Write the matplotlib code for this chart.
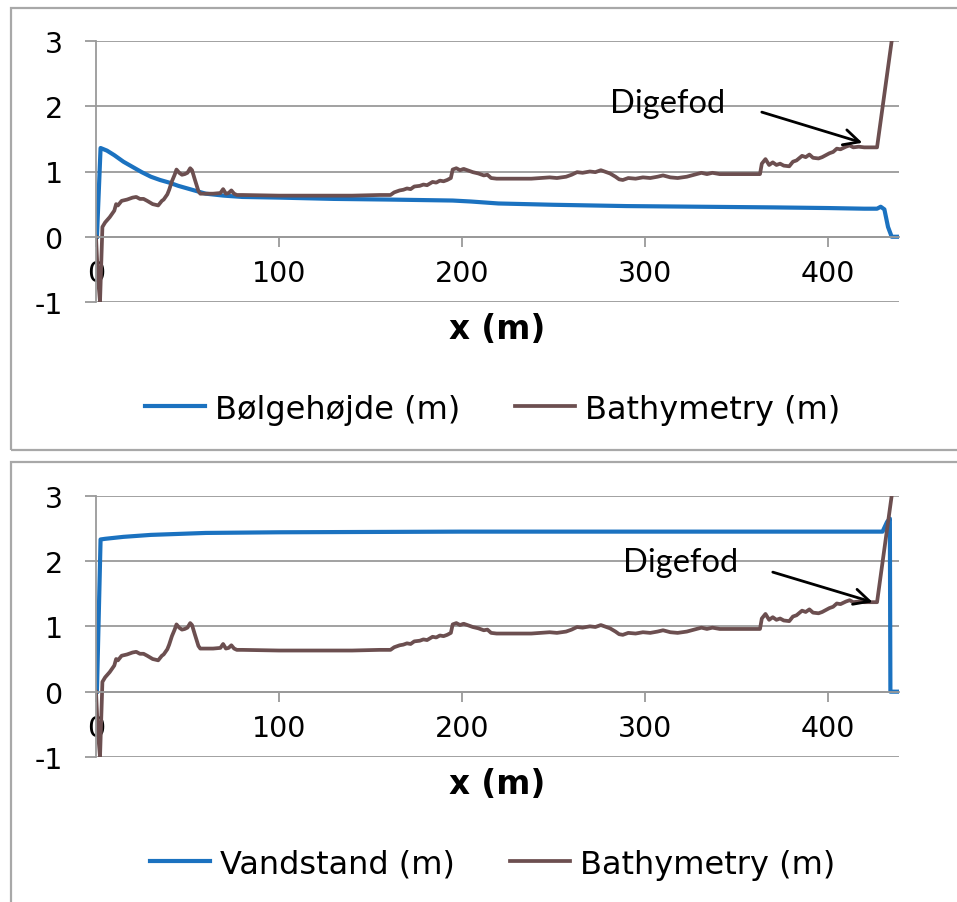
import matplotlib
matplotlib.use("Agg")
import matplotlib.pyplot as plt
from matplotlib.patches import Rectangle

plt.rcParams["axes.unicode_minus"] = False

# bathymetry (same in both panels)
bathy_x = [0, 1, 2.2, 3.5, 5, 7.5, 10, 11, 12, 14, 17, 20, 22, 24, 26, 28, 31, 34, 36, 37,
           39, 40, 41.5, 43, 44, 45.5, 47, 48.5, 50, 51.5, 52.5, 54, 56, 57, 60, 64, 68, 69.5,
           71, 72.5, 74, 75.5, 77, 80, 100, 120, 140, 155, 161, 163, 166, 168, 170, 172, 174,
           177, 179, 181, 184, 186, 188, 190, 192, 194, 195, 197, 199, 201, 203, 206, 209, 212,
           214, 216, 219, 225, 232, 238, 243, 248, 252, 257, 260, 263, 266, 270, 273, 276, 279,
           281, 284, 286, 288, 291, 295, 299, 303, 307, 310, 314, 318, 323, 327, 331, 334, 337,
           341, 345, 350, 356, 363, 364, 366, 368, 370, 372, 374, 376, 379, 381, 383, 386, 388,
           390, 392, 395, 397, 399, 401, 403, 405, 407, 410, 412, 414, 417, 420, 423, 427, 435]
bathy_y = [0.0, -0.6, -1.0, 0.15, 0.22, 0.3, 0.4, 0.5, 0.48, 0.55, 0.57, 0.6, 0.61, 0.58, 0.58,
           0.55, 0.5, 0.48, 0.55, 0.57, 0.65, 0.72, 0.85, 0.95, 1.03, 0.98, 0.95, 0.96, 0.98,
           1.05, 1.02, 0.88, 0.7, 0.66, 0.66, 0.66, 0.67, 0.73, 0.66, 0.67, 0.71, 0.66, 0.64,
           0.64, 0.63, 0.63, 0.63, 0.64, 0.64, 0.68, 0.71, 0.72, 0.74, 0.73, 0.77, 0.78, 0.8,
           0.79, 0.84, 0.83, 0.86, 0.85, 0.87, 0.9, 1.03, 1.05, 1.02, 1.04, 1.02, 0.99, 0.97,
           0.94, 0.95, 0.9, 0.89, 0.89, 0.89, 0.89, 0.9, 0.91, 0.9, 0.92, 0.95, 0.99, 0.98, 1.0,
           0.99, 1.02, 0.99, 0.97, 0.92, 0.88, 0.87, 0.9, 0.89, 0.91, 0.9, 0.92, 0.94, 0.91, 0.9,
           0.92, 0.95, 0.98, 0.96, 0.98, 0.96, 0.96, 0.96, 0.96, 0.96, 1.12, 1.19, 1.1, 1.14, 1.1,
           1.12, 1.09, 1.08, 1.15, 1.17, 1.24, 1.22, 1.26, 1.21, 1.2, 1.22, 1.25, 1.28, 1.3, 1.35,
           1.34, 1.38, 1.4, 1.37, 1.38, 1.37, 1.37, 1.37, 3.0]

# wave height (top panel)
wave_x = [0.5, 2.5, 6, 10, 15, 20, 25, 30, 35, 40, 45, 50, 55, 60, 70, 80, 100, 130, 160, 195,
          205, 220, 250, 290, 330, 370, 400, 420, 427, 429, 431, 433, 435, 439]
wave_y = [0, 1.36, 1.32, 1.25, 1.15, 1.07, 0.99, 0.92, 0.87, 0.83, 0.78, 0.74, 0.7, 0.66, 0.63,
          0.61, 0.6, 0.58, 0.57, 0.555, 0.54, 0.51, 0.49, 0.47, 0.46, 0.45, 0.44, 0.43, 0.43,
          0.46, 0.42, 0.15, 0.0, 0.0]

# water level (bottom panel)
water_x = [0.5, 2.5, 5, 15, 30, 60, 100, 200, 300, 400, 430, 432.5, 434, 434.3, 439]
water_y = [0, 2.33, 2.34, 2.37, 2.4, 2.43, 2.44, 2.45, 2.45, 2.45, 2.45, 2.6, 2.65, 0, 0]

BLUE = "#1b72c0"
BROWN = "#6c4f50"
GRID = "#9a9a9a"

fig = plt.figure(figsize=(9.57, 9.03), dpi=100)
fig.patch.set_facecolor("white")

# panel frames
fig.patches.append(Rectangle((11 / 957, 1 - 451 / 903), 1.0, 442 / 903, transform=fig.transFigure,
                             fill=False, edgecolor="#a8a8a8", lw=1.6))
fig.patches.append(Rectangle((11 / 957, -0.02), 1.0, 440 / 903 + 0.02, transform=fig.transFigure,
                             fill=False, edgecolor="#a8a8a8", lw=1.6))

ax1 = fig.add_axes([96 / 957, 1 - 303 / 903, 803 / 957, 261 / 903])
ax2 = fig.add_axes([96 / 957, 1 - 758 / 903, 803 / 957, 261.3 / 903])

panels = [
    (ax1, wave_x, wave_y, "Bølgehøjde (m)", (281, 1.91), (364, 1.91), (419, 1.44)),
    (ax2, water_x, water_y, "Vandstand (m)", (288, 1.85), (370, 1.83), (424.6, 1.37)),
]

for ax, sx, sy, label, txt_pos, arr_start, arr_tip in panels:
    ax.plot(sx, sy, color=BLUE, lw=3.0, label=label, solid_joinstyle="round")
    ax.plot(bathy_x, bathy_y, color=BROWN, lw=2.7, label="Bathymetry (m)", solid_joinstyle="round")
    ax.set_xlim(0, 439)
    ax.set_ylim(-1, 3)
    ax.set_yticks([-1, 0, 1, 2, 3])
    ax.set_xticks([0, 100, 200, 300, 400])
    ax.grid(axis="y", color=GRID, lw=1.3)
    ax.set_axisbelow(True)
    for s in ["top", "right"]:
        ax.spines[s].set_visible(False)
    ax.spines["bottom"].set_position(("data", 0))
    ax.spines["bottom"].set_color(GRID)
    ax.spines["left"].set_color(GRID)
    ax.spines["bottom"].set_linewidth(1.3)
    ax.spines["left"].set_linewidth(1.3)
    ax.tick_params(axis="y", length=8, width=1.3, color=GRID, pad=16, labelsize=20.5)
    ax.tick_params(axis="x", length=7, width=1.3, color=GRID, pad=9, labelsize=20.5)
    ax.text(0.5, -0.103, "x (m)", transform=ax.transAxes, ha="center", va="center",
            fontsize=23.5, fontweight="bold")
    ax.text(txt_pos[0], txt_pos[1], "Digefod", fontsize=23.5, family="Lato", ha="left", va="baseline")
    ax.annotate("", xy=arr_tip, xytext=arr_start,
                arrowprops=dict(arrowstyle="->", lw=2, color="black", mutation_scale=28,
                                shrinkA=0, shrinkB=0))
    ax.legend(loc="center", bbox_to_anchor=(0.494, -0.41), ncol=2, frameon=False, fontsize=23,
              handlelength=1.88, handletextpad=0.31, columnspacing=1.72)

fig.savefig("out.png", dpi=100)
